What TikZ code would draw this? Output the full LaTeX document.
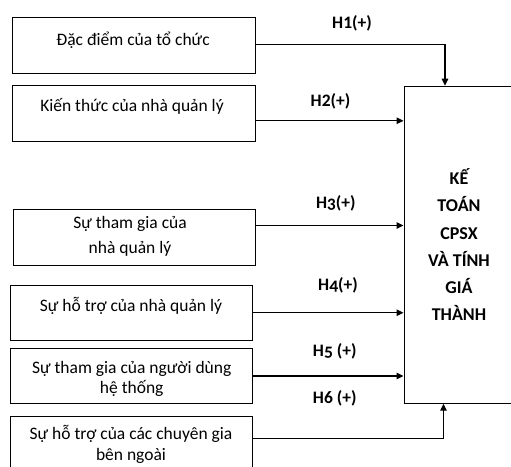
\documentclass[tikz,border=0pt]{standalone}
\usepackage{fontspec}
\setmainfont{Carlito}
\newfontfamily\osfont{Carlito}[Numbers=OldStyle]
\usetikzlibrary{arrows.meta}
\begin{document}
\begin{tikzpicture}[x=1pt,y=-1pt,
  box/.style={draw,line width=1pt,inner sep=0pt,anchor=north west},
  txt/.style={font=\fontsize{17.5}{23}\selectfont,align=center,inner sep=0pt,anchor=base},
  hlab/.style={font=\bfseries\fontsize{17.5}{21}\selectfont,inner sep=0pt,anchor=base},
  arr/.style={line width=1.2pt,-{Triangle[length=7pt,width=6.5pt]}},
  ]
\useasboundingbox (0,0) rectangle (511,466);
\clip (0,0) rectangle (511,466);
% boxes
\node[box,minimum width=243pt,minimum height=56pt] (b1) at (12,17) {};
\node[box,minimum width=243pt,minimum height=56.3pt] (b2) at (12,84.7) {};
\node[box,minimum width=242pt,minimum height=56pt] (b3) at (13,209) {};
\node[box,minimum width=242pt,minimum height=54.5pt] (b4) at (10,285) {};
\node[box,minimum width=242pt,minimum height=55pt] (b5) at (10,348) {};
\node[box,minimum width=242pt,minimum height=60pt] (b6) at (10,416) {};
\node[box,minimum width=110pt,minimum height=317pt,
      font=\bfseries\fontsize{18}{27.3}\selectfont,align=center] (big) at (403.5,85.7)
  {KẾ\\TOÁN\\CPSX\\VÀ TÍNH\\GIÁ\\THÀNH};
% texts (base anchor = baseline of the last line)
\node[txt] (t1) at (133,45) {Đặc điểm của tổ chức};
\node[txt] (t2) at (132,111.7) {Kiến thức của nhà quản lý};
\node[txt] (t3) at (130,253) {Sự tham gia của\\[2pt]nhà quản lý};
\node[txt] (t4) at (131,311) {Sự hỗ trợ của nhà quản lý};
\node[txt] (t5) at (131.7,393) {Sự tham gia của người dùng\\[-3pt]hệ thống};
\node[txt] (t6) at (131,460.5) {Sự hỗ trợ của các chuyên gia\\[-1.5pt]bên ngoài};
% labels
\node[hlab] (h1) at (352,28) {H1(+)};
\node[hlab] (h2) at (330.5,106.7) {H2(+)};
\node[hlab] (h3) at (335.8,208.3) {H{\osfont 3}(+)};
\node[hlab] (h4) at (338,290) {H{\osfont 4}(+)};
\node[hlab] (h5) at (334.7,356.7) {H{\osfont 5} (+)};
\node[hlab] (h6) at (334.7,403.3) {H6 (+)};
% connectors
\coordinate (s1) at ([yshift=1.3pt]b1.east);
\coordinate (s2) at ([yshift=-7.45pt]b2.east);
\coordinate (s3) at ([yshift=12pt]b3.east);
\coordinate (s4) at (b4.east);
\coordinate (s5) at (b5.east);
\coordinate (s6) at ([yshift=7.7pt]b6.east);
\draw[arr] (s1) -| ([xshift=41.5pt]big.north west);
\draw[arr] (s2) -- (s2 -| big.west);
\draw[arr] (s3) -- (s3 -| big.west);
\draw[arr] (s4) -- (s4 -| big.west);
\draw[arr] (s5) -- (s5 -| big.west);
\draw[arr] (s6) -| ([xshift=40pt]big.south west);
\end{tikzpicture}
\end{document}
